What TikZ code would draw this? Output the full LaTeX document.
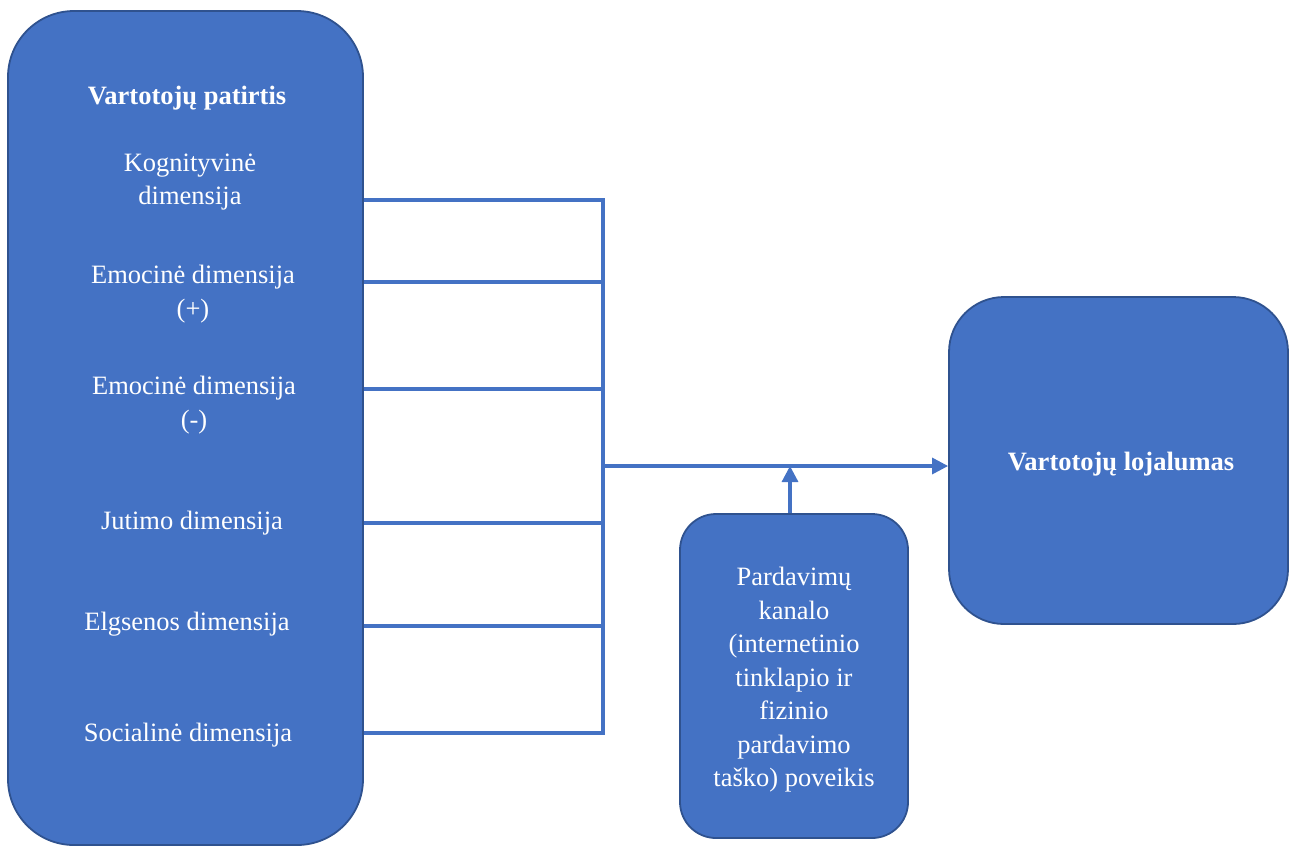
\documentclass[tikz,border=0pt]{standalone}
\usepackage{fontspec}
\setmainfont{Liberation Serif}
\usetikzlibrary{arrows.meta}
\definecolor{boxblue}{HTML}{4472C4}
\definecolor{boxedge}{HTML}{2F528F}
\begin{document}
\begin{tikzpicture}[x=1pt,y=-1pt,
  card/.style={draw=boxedge, fill=boxblue, line width=1.8pt, inner sep=0pt},
  label/.style={text=white, align=center, font=\fontsize{26.5}{33.5}\selectfont},
  boldlabel/.style={label, font=\fontsize{26.5}{33.5}\selectfont\bfseries},
  wire/.style={draw=boxblue, line width=3.2pt},
  arrowwire/.style={wire, -{Triangle[length=16pt,width=16pt]}}]
\useasboundingbox (0,0) rectangle (1289,847);
% boxes
\node[card, rounded corners=66pt, minimum width=355pt, minimum height=834pt] (lb) at (185.5,428) {};
\node[card, rounded corners=55pt, minimum width=339pt, minimum height=327pt] (rb) at (1118.5,460.5) {};
\node[card, rounded corners=36pt, minimum width=228pt, minimum height=324pt] (bb) at (794,676) {};
% texts in the left box
\node[boldlabel] (title) at (187,98) {Vartotojų patirtis};
\node[label] (kog) at (190,182) {Kognityvinė\\dimensija};
\node[label] (emp) at (193,294) {Emocinė dimensija\\(+)};
\node[label] (emn) at (194,405) {Emocinė dimensija\\(-)};
\node[label] (jut) at (192,523) {Jutimo dimensija};
\node[label] (elg) at (187,624) {Elgsenos dimensija};
\node[label] (soc) at (188,735) {Socialinė dimensija};
% texts in the other boxes
\node[boldlabel] (loj) at (1121,464) {Vartotojų lojalumas};
\node[label] (kan) at (794,680) {Pardavimų\\kanalo\\(internetinio\\tinklapio ir\\fizinio\\pardavimo\\taško) poveikis};
% bus points
\coordinate (b1) at (603,200);
\coordinate (b2) at (603,282);
\coordinate (b3) at (603,389);
\coordinate (b4) at (603,523);
\coordinate (b5) at (603,626);
\coordinate (b6) at (603,733);
\coordinate (j) at (603,466);
% connectors
\foreach \b in {b1,b2,b3,b4,b5,b6}
  \draw[wire] (lb.east |- \b) -- (\b);
\draw[wire, line cap=rect] (b1) -- (b6);
\draw[arrowwire] (j) -- (rb.west |- j);
\draw[arrowwire] (bb.north -| 790,0) -- (790,466);
\end{tikzpicture}
\end{document}
